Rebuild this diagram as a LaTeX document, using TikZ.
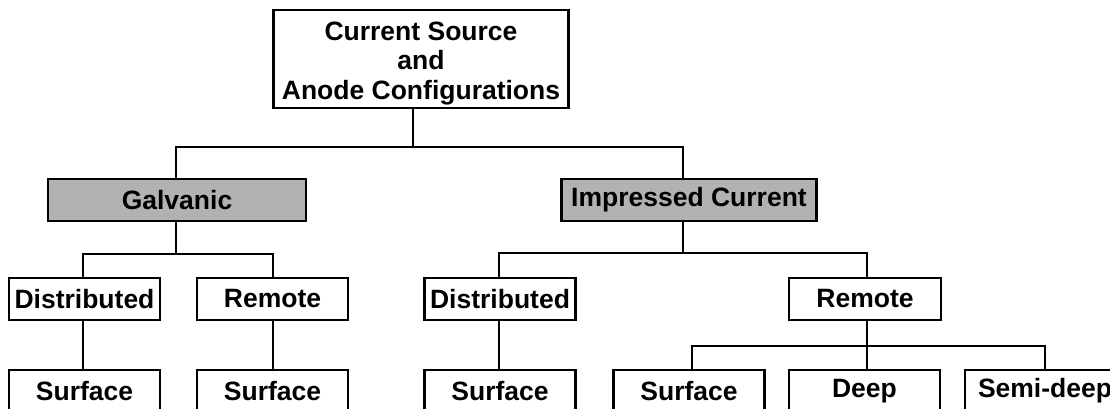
\documentclass[tikz,border=0pt]{standalone}
\usepackage{fontspec}
\setmainfont{Liberation Sans}
\begin{document}
\begin{tikzpicture}[x=1pt,y=-1pt,
  box/.style={draw=black,line width=2.7pt,fill=white,inner sep=0pt,align=center,
    font=\fontsize{26.5}{29.5}\selectfont\bfseries},
  graybox/.style={box,fill=black!30},
  conn/.style={draw=black,line width=2.7pt}]
\useasboundingbox (0,0) rectangle (1110,409);
\clip (0,0) rectangle (1110,409);
% nodes
\node[box,minimum width=295pt,minimum height=98pt] (top) at (421,59)
  {\raisebox{-5pt}[\height][\depth]{\begin{tabular}{@{}c@{}}Current Source\\and\\Anode Configurations\end{tabular}}};
\node[graybox,minimum width=258pt,minimum height=42pt] (galv) at (177,200) {Galvanic};
\node[graybox,minimum width=255pt,minimum height=42pt] (imp) at (689,200) {Impressed Current};
\node[box,minimum width=151pt,minimum height=42pt] (d1) at (84.5,299) {Distributed};
\node[box,minimum width=151pt,minimum height=42pt] (r1) at (272.5,299) {Remote};
\node[box,minimum width=151pt,minimum height=42pt] (d2) at (500,299) {Distributed};
\node[box,minimum width=152pt,minimum height=42pt] (r2) at (865,299) {Remote};
\node[box,minimum width=151pt,minimum height=42pt] (s1) at (84.5,391) {Surface};
\node[box,minimum width=151pt,minimum height=42pt] (s2) at (272.5,391) {Surface};
\node[box,minimum width=151pt,minimum height=42pt] (s3) at (500,391) {Surface};
\node[box,minimum width=151pt,minimum height=42pt] (s4) at (689,391) {Surface};
\node[box,minimum width=151pt,minimum height=42pt] (deep) at (864.5,391) {Deep};
\node[box,minimum width=160pt,minimum height=42pt] (semi) at (1045,391) {Semi-deep};
% junction coordinates
\coordinate (jT) at (413,147);
\coordinate (jL) at (176,147);
\coordinate (jR) at (683,147);
\coordinate (gJ) at (176,254);
\coordinate (gL) at (83,254);
\coordinate (gR) at (273,254);
\coordinate (iJ) at (683,253);
\coordinate (iL) at (499,253);
\coordinate (iR) at (867,253);
\coordinate (rJ) at (867,346);
\coordinate (rL) at (692,346);
\coordinate (rR) at (1045,346);
% connectors
\draw[conn] (top.south -| jT) -- (jT);
\draw[conn] (jL |- galv.north) -- (jL) -- (jR) -- (jR |- imp.north);
\draw[conn] (galv.south -| gJ) -- (gJ);
\draw[conn] (d1.north -| gL) -- (gL) -- (gR) -- (r1.north -| gR);
\draw[conn] (d1.south -| gL) -- (s1.north -| gL);
\draw[conn] (r1.south -| gR) -- (s2.north -| gR);
\draw[conn] (imp.south -| iJ) -- (iJ);
\draw[conn] (d2.north -| iL) -- (iL) -- (iR) -- (r2.north -| iR);
\draw[conn] (d2.south -| iL) -- (s3.north -| iL);
\draw[conn] (r2.south -| rJ) -- (deep.north -| rJ);
\draw[conn] (s4.north -| rL) -- (rL) -- (rR) -- (semi.north -| rR);
\end{tikzpicture}
\end{document}
